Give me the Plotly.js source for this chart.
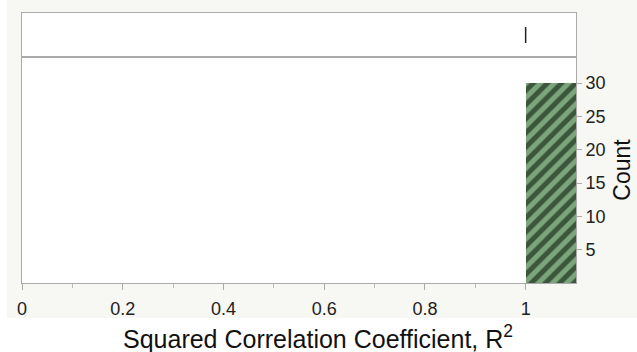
<!DOCTYPE html>
<html>
<head>
<meta charset="utf-8">
<script src="https://cdn.plot.ly/plotly-3.0.1.min.js"></script>
<style>html,body{margin:0;padding:0;background:#fff;}#chart{width:637px;height:352px;}</style>
</head>
<body>
<div id="chart"></div>
<script>
// Squared correlation coefficient values (all 30 fall in the [1.0, 1.1) bin)
const r2Values = [1,1,1,1,1,1,1,1,1,1,1,1,1,1,1,1,1,1,1,1,1,1,1,1,1,1,1,1,1,1];
const xTickVals = [0, 0.2, 0.4, 0.6, 0.8, 1];
const xTickText = ['0', '0.2', '0.4', '0.6', '0.8', '1'];
const xMinorVals = [0.1, 0.3, 0.5, 0.7, 0.9];
const yTickVals = [5, 10, 15, 20, 25, 30];
const yTickText = ['5', '10', '15', '20', '25', '30'];
const xTitle = 'Squared Correlation Coefficient, R<sup>2</sup>';
const yTitle = 'Count';

const W = 637, H = 352;
const mL = 22, mR = 61, mT = 13, mB = 69;
const pw = W - mL - mR, ph = H - mT - mB;
const split = (283 - 57) / ph;
const FONT = 'Liberation Sans, Arial, sans-serif';

const hist = {
  type: 'histogram',
  x: r2Values,
  xbins: {start: 0, end: 1.1, size: 0.1},
  xaxis: 'x', yaxis: 'y',
  marker: {
    color: '#79a579',
    line: {width: 0},
    pattern: {shape: '/', fgcolor: '#3c563c', bgcolor: '#7ba57b', size: 10, solidity: 0.5, fillmode: 'replace'}
  },
  hoverinfo: 'none'
};

const box = {
  type: 'box',
  x: r2Values,
  y0: 0,
  orientation: 'h',
  xaxis: 'x2', yaxis: 'y2',
  boxpoints: false,
  width: 0.73,
  line: {color: '#222', width: 1.5},
  fillcolor: 'rgba(0,0,0,0)',
  hoverinfo: 'none'
};

const layout = {
  width: W, height: H,
  margin: {l: mL, r: mR, t: mT, b: mB, pad: 0},
  paper_bgcolor: '#f7f7f3',
  plot_bgcolor: '#ffffff',
  showlegend: false,
  bargap: 0,
  font: {family: FONT, color: '#222', size: 18},
  xaxis: {
    range: [0, 1.1],
    anchor: 'y',
    tickvals: xTickVals, ticktext: xTickText,
    ticks: 'outside', ticklen: 6, tickcolor: '#aaaaaa', tickwidth: 1,
    ticklabelstandoff: 3,
    minor: {tickvals: xMinorVals, ticks: 'outside', ticklen: 4, tickcolor: '#bbbbbb', showgrid: false},
    showline: true, linecolor: '#aaaaaa', linewidth: 1, mirror: true,
    showgrid: false, zeroline: false,
    tickfont: {size: 18, family: FONT, color: '#222'}
  },
  xaxis2: {
    range: [0, 1.1],
    anchor: 'y2',
    matches: 'x',
    showticklabels: false, ticks: '',
    showline: true, linecolor: '#aaaaaa', linewidth: 1, mirror: true,
    showgrid: false, zeroline: false
  },
  yaxis: {
    domain: [0, split],
    range: [0, 33.9],
    side: 'right',
    anchor: 'x',
    tickvals: yTickVals, ticktext: yTickText,
    ticks: 'outside', ticklen: 5, tickcolor: '#aaaaaa',
    showline: true, linecolor: '#aaaaaa', linewidth: 1, mirror: true,
    showgrid: false, zeroline: false,
    tickfont: {size: 18, family: FONT, color: '#222'},
    title: {text: yTitle, font: {size: 23, family: FONT, color: '#111'}, standoff: 9}
  },
  yaxis2: {
    domain: [split, 1],
    range: [-1, 1],
    anchor: 'x2',
    showticklabels: false, ticks: '',
    showline: true, linecolor: '#aaaaaa', linewidth: 1, mirror: true,
    showgrid: false, zeroline: false
  },
  annotations: [
    {text: xTitle, xref: 'paper', yref: 'paper', x: (318 - mL) / pw, y: (283 - 337) / ph,
     xanchor: 'center', yanchor: 'middle', showarrow: false,
     font: {size: 25, family: FONT, color: '#111'}}
  ],
  shapes: [
    {type: 'rect', xref: 'paper', yref: 'paper', x0: -0.2, x1: 1.3, y0: -0.6, y1: (283 - 318) / ph, fillcolor: '#ffffff', line: {width: 0}, layer: 'below'},
    {type: 'rect', xref: 'paper', yref: 'paper', x0: -0.2, x1: (7 - mL) / pw, y0: -0.6, y1: 1.3, fillcolor: '#ffffff', line: {width: 0}, layer: 'below'}
  ]
};

Plotly.newPlot('chart', [hist, box], layout, {displayModeBar: false, staticPlot: true});
</script>
</body>
</html>
